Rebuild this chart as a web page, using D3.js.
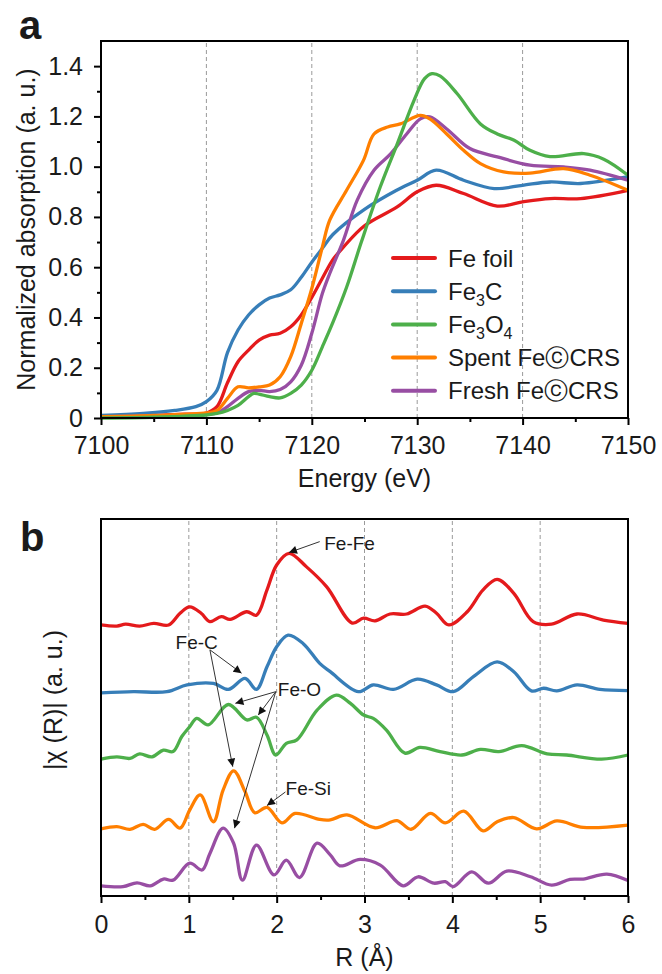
<!DOCTYPE html>
<html><head><meta charset="utf-8">
<script src="https://cdn.jsdelivr.net/npm/d3@7"></script>
<style>
body{margin:0;background:#fff}
text{font-family:"Liberation Sans",Arial,Helvetica,sans-serif;fill:#1a1a1a}
</style>
</head><body><svg id="chart" width="662" height="974"></svg>
<script>
// ---------- data ----------
const energyTicks = [7100, 7110, 7120, 7130, 7140, 7150];
const energyMinor = [7105, 7115, 7125, 7135, 7145];
const absTicks = [0, 0.2, 0.4, 0.6, 0.8, 1.0, 1.2, 1.4];
const absMinor = [0.1, 0.3, 0.5, 0.7, 0.9, 1.1, 1.3];
const rTicks = [0, 1, 2, 3, 4, 5, 6];
const rMinor = [0.5, 1.5, 2.5, 3.5, 4.5, 5.5];

const seriesColors = ["#e41a1c", "#377eb8", "#4daf4a", "#ff7f00", "#984ea3"];
const legendLabels = [
  [["Fe foil", false]],
  [["Fe", false], ["3", true], ["C", false]],
  [["Fe", false], ["3", true], ["O", false], ["4", true]],
  [["Spent Fe\u24D2CRS", false]],
  [["Fresh Fe\u24D2CRS", false]]
];

// XANES (panel a): [energy eV, normalized absorption]
const xanesFoil = [[7100,0.005],[7105,0.01],[7108,0.015],[7110,0.02],[7111,0.045],[7112,0.14],[7113,0.224],[7114,0.27],[7115,0.31],[7116,0.33],[7117,0.337],[7118,0.363],[7119,0.41],[7120,0.48],[7121,0.556],[7122,0.63],[7123,0.68],[7125,0.765],[7128.1,0.84],[7130,0.90],[7131.8,0.926],[7134.4,0.893],[7137.6,0.843],[7140,0.86],[7142.6,0.873],[7145.5,0.873],[7150,0.906]];
const xanesFe3C = [[7100,0.01],[7104,0.018],[7107,0.03],[7109,0.045],[7110,0.065],[7111,0.11],[7112,0.26],[7113,0.35],[7114,0.41],[7115,0.45],[7116,0.477],[7117,0.49],[7118,0.51],[7119,0.56],[7120,0.62],[7121,0.675],[7122,0.73],[7125,0.83],[7128,0.905],[7130,0.946],[7131.8,0.986],[7134.4,0.946],[7137.3,0.913],[7140,0.926],[7142.6,0.939],[7145.5,0.933],[7150,0.96]];
const xanesFe3O4 = [[7100,0.0],[7105,0.003],[7110,0.012],[7111,0.018],[7112,0.03],[7113,0.05],[7114,0.085],[7114.5,0.098],[7115,0.095],[7116,0.085],[7117,0.08],[7118,0.098],[7119,0.131],[7120,0.19],[7121,0.283],[7122,0.38],[7123.3,0.52],[7124.7,0.70],[7126.5,0.92],[7128.1,1.09],[7129.7,1.264],[7130.7,1.35],[7131.4,1.37],[7132.2,1.36],[7133.8,1.29],[7136,1.17],[7137.6,1.13],[7139.2,1.105],[7140.7,1.065],[7142.6,1.04],[7145.8,1.052],[7147.7,1.03],[7150,0.966]];
const xanesSpent = [[7100,0.005],[7105,0.01],[7110,0.02],[7111,0.03],[7112,0.078],[7113,0.124],[7114,0.12],[7115,0.124],[7116,0.131],[7117,0.164],[7118,0.244],[7119,0.376],[7120,0.515],[7121,0.68],[7121.7,0.787],[7123.3,0.906],[7124.9,1.025],[7125.9,1.13],[7127.2,1.158],[7128.4,1.17],[7130.3,1.204],[7131.2,1.19],[7132.8,1.13],[7134.4,1.065],[7136,1.012],[7138.2,0.979],[7140.7,0.974],[7143.9,0.992],[7146.4,0.966],[7150,0.906]];
const xanesFresh = [[7100,0.005],[7105,0.008],[7110,0.015],[7111,0.02],[7112,0.045],[7113,0.078],[7114,0.105],[7115,0.11],[7116,0.105],[7117,0.113],[7118,0.144],[7119,0.21],[7120,0.337],[7121,0.495],[7121.7,0.575],[7123,0.707],[7124.3,0.866],[7125.9,0.986],[7127.5,1.052],[7129,1.13],[7130.3,1.19],[7131.2,1.198],[7132.8,1.15],[7135,1.072],[7137.6,1.039],[7140.7,1.006],[7143.9,0.999],[7146.4,0.986],[7150,0.946]];

// EXAFS (panel b): [R Å, |chi(R)| a.u., curves vertically stacked]
const exafsFoil = [[0,7.19],[0.18,7.16],[0.28,7.21],[0.44,7.16],[0.6,7.23],[0.77,7.19],[0.9,7.5],[1.01,7.67],[1.14,7.5],[1.24,7.28],[1.37,7.41],[1.47,7.34],[1.66,7.54],[1.77,7.45],[1.89,8.12],[2.0,8.78],[2.14,9.09],[2.34,8.73],[2.57,8.2],[2.86,7.24],[2.99,7.37],[3.12,7.3],[3.29,7.48],[3.48,7.48],[3.69,7.69],[3.82,7.5],[3.96,7.19],[4.17,7.54],[4.35,8.12],[4.51,8.4],[4.7,8.03],[4.92,7.28],[5.13,7.21],[5.42,7.48],[5.72,7.32],[6.0,7.23]];
const exafsFe3C = [[0,5.39],[0.37,5.42],[0.75,5.42],[0.98,5.6],[1.28,5.64],[1.45,5.48],[1.64,5.77],[1.77,5.48],[1.89,6.08],[2.0,6.61],[2.13,6.92],[2.3,6.7],[2.49,6.17],[2.61,5.95],[2.93,5.42],[3.1,5.6],[3.33,5.48],[3.6,5.75],[3.82,5.6],[4.01,5.42],[4.24,5.82],[4.51,6.21],[4.7,5.95],[4.9,5.44],[5.04,5.51],[5.19,5.44],[5.42,5.6],[5.68,5.48],[6.0,5.45]];
const exafsFe3O4 = [[0,3.63],[0.18,3.69],[0.33,3.65],[0.44,3.77],[0.58,3.69],[0.71,3.87],[0.82,3.83],[0.92,4.23],[1.01,4.49],[1.09,4.71],[1.22,4.54],[1.45,5.08],[1.66,4.67],[1.77,4.74],[1.89,4.27],[1.99,3.74],[2.11,4.05],[2.23,4.14],[2.46,4.93],[2.68,5.33],[2.84,5.11],[2.99,4.8],[3.1,4.71],[3.25,4.4],[3.46,3.79],[3.63,3.94],[3.86,3.83],[4.11,3.74],[4.32,3.89],[4.53,3.83],[4.79,3.99],[5.08,3.77],[5.3,3.74],[5.7,3.63],[6.0,3.74]];
const exafsSpent = [[0,1.78],[0.18,1.84],[0.33,1.77],[0.48,1.9],[0.61,1.77],[0.77,2.03],[0.9,1.8],[1.01,2.28],[1.13,2.68],[1.28,1.97],[1.39,2.81],[1.51,3.32],[1.64,2.77],[1.75,2.21],[1.89,2.35],[2.06,1.94],[2.21,2.19],[2.49,2.03],[2.61,2.02],[2.8,2.15],[3.12,1.81],[3.37,2.0],[3.53,1.77],[3.75,2.19],[3.92,1.94],[4.13,2.25],[4.35,1.73],[4.51,1.97],[4.7,2.08],[4.96,1.78],[5.19,1.99],[5.49,1.82],[6.0,1.88]];
const exafsFresh = [[0,0.27],[0.25,0.25],[0.41,0.35],[0.56,0.27],[0.71,0.45],[0.82,0.42],[1.01,0.87],[1.15,0.69],[1.24,1.13],[1.39,1.8],[1.51,1.4],[1.61,0.42],[1.77,1.35],[1.97,0.56],[2.11,0.95],[2.26,0.49],[2.46,1.4],[2.61,1.09],[2.72,0.8],[2.95,0.97],[3.18,0.82],[3.44,0.27],[3.61,0.51],[3.79,0.34],[3.92,0.38],[4.01,0.25],[4.22,0.64],[4.41,0.34],[4.62,0.66],[4.89,0.51],[5.13,0.29],[5.34,0.44],[5.49,0.45],[5.76,0.58],[6.0,0.41]];

// annotations in data coordinates of panel b (text centre, arrow origin, arrow tips)
const annotations = [
  {text:"Fe-Fe", at:[2.83,9.36], from:[2.49,9.40], to:[[2.14,9.11]]},
  {text:"Fe-C", at:[1.09,6.72], from:[1.24,6.53], to:[[1.60,5.91],[1.50,3.43]]},
  {text:"Fe-O", at:[2.26,5.49], from:[1.99,5.42], to:[[1.53,5.11],[1.79,4.80],[1.52,1.80]]},
  {text:"Fe-Si", at:[2.36,2.86], from:[2.10,2.76], to:[[1.89,2.40]]}
];

// ---------- drawing ----------
const svg = d3.select("#chart");
const FS = 25;

const xA = d3.scaleLinear().domain([7100, 7150]).range([101, 628]);
const yA = d3.scaleLinear().domain([0, 1.5]).range([418, 41]);
const xB = d3.scaleLinear().domain([0, 6]).range([101, 628]);
const yB = d3.scaleLinear().domain([0, 10]).range([896, 519]);

const defs = svg.append("defs");
defs.append("marker").attr("id","arr").attr("viewBox","0 0 10 10")
  .attr("refX",10).attr("refY",5).attr("markerWidth",11).attr("markerHeight",8)
  .attr("markerUnits","userSpaceOnUse").attr("orient","auto")
  .append("path").attr("d","M0,0 L10,5 L0,10 Z").attr("fill","#111");

function grid(g, x, y, vals) {
  g.append("g").selectAll("line").data(vals).join("line")
    .attr("x1", d => x(d)).attr("x2", d => x(d))
    .attr("y1", y.range()[0]).attr("y2", y.range()[1])
    .attr("stroke", "#9a9a9a").attr("stroke-width", 1).attr("stroke-dasharray", "4,3");
}

function frame(g, x, y) {
  g.append("rect").attr("x", x.range()[0]).attr("y", y.range()[1])
    .attr("width", x.range()[1] - x.range()[0]).attr("height", y.range()[0] - y.range()[1])
    .attr("fill", "none").attr("stroke", "#000").attr("stroke-width", 2);
}

function styleAxis(ax) {
  ax.select(".domain").remove();
  ax.selectAll(".tick line").attr("stroke", "#000").attr("stroke-width", 2);
  ax.selectAll("text").attr("font-size", FS).attr("fill", "#1a1a1a")
    .attr("font-family", '"Liberation Sans", Arial, sans-serif');
}

const lineA = d3.line().x(d => xA(d[0])).y(d => yA(d[1])).curve(d3.curveCatmullRom.alpha(0.5));
const lineB = d3.line().x(d => xB(d[0])).y(d => yB(d[1])).curve(d3.curveCatmullRom.alpha(0.5));

// ===== Panel a =====
const ga = svg.append("g");
grid(ga, xA, yA, energyTicks.slice(1, -1));
const xanes = [xanesFoil, xanesFe3C, xanesFe3O4, xanesSpent, xanesFresh];
const drawOrderA = [0, 1, 4, 3, 2];
drawOrderA.forEach(i => {
  ga.append("path").datum(xanes[i]).attr("d", lineA)
    .attr("fill", "none").attr("stroke", seriesColors[i]).attr("stroke-width", 3.3)
    .attr("stroke-linejoin", "round");
});
frame(ga, xA, yA);
styleAxis(ga.append("g").attr("transform", "translate(0,418)")
  .call(d3.axisBottom(xA).tickValues(energyTicks).tickSize(7).tickPadding(11).tickFormat(d3.format("d"))));
styleAxis(ga.append("g").attr("transform", "translate(0,418)")
  .call(d3.axisBottom(xA).tickValues(energyMinor).tickSize(4).tickFormat("")));
styleAxis(ga.append("g").attr("transform", "translate(101,0)")
  .call(d3.axisLeft(yA).tickValues(absTicks).tickSize(7).tickPadding(11).tickFormat(d => d === 0 ? "0" : d.toFixed(1))));
styleAxis(ga.append("g").attr("transform", "translate(101,0)")
  .call(d3.axisLeft(yA).tickValues(absMinor).tickSize(4).tickFormat("")));

ga.append("text").attr("x", 364.5).attr("y", 487).attr("text-anchor", "middle")
  .attr("font-size", FS).text("Energy (eV)");
ga.append("text").attr("transform", "translate(35,229.5) rotate(-90)").attr("text-anchor", "middle")
  .attr("font-size", FS).text("Normalized absorption (a. u.)");
ga.append("text").attr("x", 19).attr("y", 39).attr("font-size", 40).attr("font-weight", "bold").text("a");

// legend
const lg = ga.append("g");
legendLabels.forEach((parts, i) => {
  const yy = 258 + i * 33.2;
  lg.append("line").attr("x1", 393).attr("x2", 435).attr("y1", yy).attr("y2", yy)
    .attr("stroke", seriesColors[i]).attr("stroke-width", 4).attr("stroke-linecap", "round");
  const t = lg.append("text").attr("x", 448).attr("y", yy + 8.5).attr("font-size", 24);
  parts.forEach(p => {
    const ts = t.append("tspan").text(p[0]);
    if (p[1]) ts.attr("font-size", 16).attr("dy", 6);
    else if (t.selectAll("tspan").size() > 1) ts.attr("dy", -6);
  });
});

// ===== Panel b =====
const gb = svg.append("g");
grid(gb, xB, yB, rTicks.slice(1, -1));
const exafs = [exafsFoil, exafsFe3C, exafsFe3O4, exafsSpent, exafsFresh];
exafs.forEach((s, i) => {
  gb.append("path").datum(s).attr("d", lineB)
    .attr("fill", "none").attr("stroke", seriesColors[i]).attr("stroke-width", 3.3)
    .attr("stroke-linejoin", "round");
});
frame(gb, xB, yB);
styleAxis(gb.append("g").attr("transform", "translate(0,896)")
  .call(d3.axisBottom(xB).tickValues(rTicks).tickSize(7).tickPadding(12).tickFormat(d3.format("d"))));
styleAxis(gb.append("g").attr("transform", "translate(0,896)")
  .call(d3.axisBottom(xB).tickValues(rMinor).tickSize(4).tickFormat("")));

gb.append("text").attr("x", 364.5).attr("y", 966).attr("text-anchor", "middle")
  .attr("font-size", FS).text("R (\u00C5)");
gb.append("text").attr("transform", "translate(62,700) rotate(-90)").attr("text-anchor", "middle")
  .attr("font-size", FS).text("|\u03C7 (R)| (a. u.)");
gb.append("text").attr("x", 20).attr("y", 551).attr("font-size", 40).attr("font-weight", "bold").text("b");

// annotations
annotations.forEach(a => {
  a.to.forEach(t => {
    gb.append("line").attr("x1", xB(a.from[0])).attr("y1", yB(a.from[1]))
      .attr("x2", xB(t[0])).attr("y2", yB(t[1]))
      .attr("stroke", "#333").attr("stroke-width", 1).attr("marker-end", "url(#arr)");
  });
  gb.append("text").attr("x", xB(a.at[0])).attr("y", yB(a.at[1]))
    .attr("dy", "0.35em").attr("text-anchor", "middle")
    .attr("font-size", 19).text(a.text);
});
</script>
</body></html>
